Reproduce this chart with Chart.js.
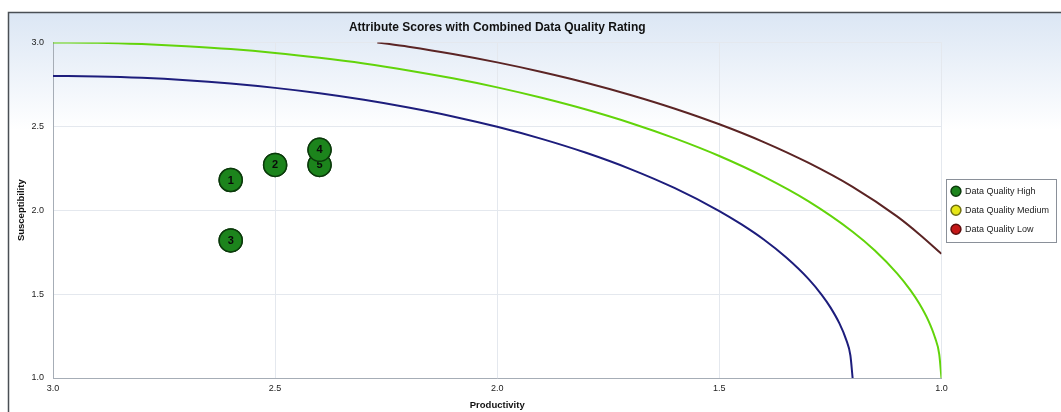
<!DOCTYPE html>
<html>
<head>
<meta charset="utf-8">
<script src="https://cdn.jsdelivr.net/npm/chart.js@4/dist/chart.umd.min.js"></script>
<style>
    html, body { margin: 0; padding: 0; background: #ffffff; }
    #wrap { width: 1061px; height: 412px; position: relative; }
</style>
</head>
<body>
<div id="wrap"><canvas id="scoreChart"></canvas></div>
<script>
// attribute points (productivity, susceptibility)
const pointLabels = ['1', '2', '3', '5', '4'];
const pointProductivity = [2.6, 2.5, 2.6, 2.4, 2.4];
const pointSusceptibility = [2.18, 2.27, 1.82, 2.27, 2.36];

// rating boundary curves
const blueX = [3.0, 2.9, 2.8, 2.7, 2.6, 2.5, 2.4, 2.3, 2.2, 2.1, 2.0, 1.9, 1.8, 1.7, 1.6, 1.5, 1.45, 1.4, 1.35, 1.3, 1.27, 1.25, 1.23, 1.215, 1.205, 1.2];
const blueY = [2.800, 2.797, 2.789, 2.775, 2.755, 2.729, 2.697, 2.658, 2.612, 2.559, 2.497, 2.425, 2.342, 2.245, 2.131, 1.995, 1.915, 1.825, 1.719, 1.592, 1.497, 1.421, 1.327, 1.232, 1.134, 1.0];

const greenX = [3.0, 2.9, 2.8, 2.7, 2.6, 2.5, 2.4, 2.3, 2.2, 2.1, 2.0, 1.9, 1.8, 1.7, 1.6, 1.5, 1.4, 1.3, 1.2, 1.15, 1.1, 1.07, 1.05, 1.03, 1.015, 1.005, 1.0];
const greenY = [3.000, 2.998, 2.990, 2.977, 2.960, 2.937, 2.908, 2.874, 2.833, 2.786, 2.732, 2.670, 2.600, 2.520, 2.428, 2.323, 2.200, 2.054, 1.872, 1.760, 1.624, 1.524, 1.444, 1.345, 1.244, 1.141, 1.0];

const brownX = [2.27, 2.2, 2.1, 2.0, 1.9, 1.8, 1.7, 1.6, 1.5, 1.4, 1.3, 1.2, 1.1, 1.05, 1.0];
const brownY = [3.000, 2.974, 2.931, 2.881, 2.824, 2.760, 2.687, 2.605, 2.512, 2.406, 2.283, 2.139, 1.963, 1.857, 1.740];

const legendNames = ['Data Quality High', 'Data Quality Medium', 'Data Quality Low'];

function toPoints(xs, ys) {
    return xs.map((x, i) => ({ x: x, y: ys[i] }));
}

function curve(xs, ys, color) {
    return {
        type: 'line',
        label: '',
        data: toPoints(xs, ys),
        borderColor: color,
        borderWidth: 2,
        pointRadius: 0,
        fill: false,
        cubicInterpolationMode: 'monotone',
        isCurve: true
    };
}

const framePlugin = {
    id: 'frame',
    beforeDraw(chart) {
        const ctx = chart.ctx;
        const grad = ctx.createLinearGradient(0, 12, 0, 130);
        grad.addColorStop(0, '#dbe6f4');
        grad.addColorStop(1, '#ffffff');
        ctx.save();
        ctx.fillStyle = grad;
        ctx.fillRect(8, 12, chart.width, chart.height);
        ctx.strokeStyle = '#4a4f55';
        ctx.lineWidth = 1.5;
        ctx.strokeRect(8.5, 12.5, chart.width + 10, chart.height + 10);
        ctx.restore();
    },
    afterDraw(chart) {
        // box round the legend
        const boxes = chart.legend.legendHitBoxes;
        if (!boxes || !boxes.length) return;
        const left = Math.min(...boxes.map(b => b.left)) - 5;
        const right = Math.max(...boxes.map(b => b.left + b.width)) + 7;
        const top = Math.min(...boxes.map(b => b.top)) - 8;
        const bottom = Math.max(...boxes.map(b => b.top + b.height)) + 8;
        const ctx = chart.ctx;
        ctx.save();
        ctx.strokeStyle = '#8a9099';
        ctx.lineWidth = 1;
        ctx.strokeRect(Math.round(left) + 0.5, Math.round(top) + 0.5, Math.round(right - left), Math.round(bottom - top));
        ctx.restore();
    }
};

const labelPlugin = {
    id: 'pointNumbers',
    afterDatasetsDraw(chart) {
        const meta = chart.getDatasetMeta(0);
        const ctx = chart.ctx;
        ctx.save();
        meta.data.forEach((el, i) => {
            el.draw(ctx, chart.chartArea);
            ctx.fillStyle = '#0a0a0a';
            ctx.font = 'bold 11px "Liberation Sans", Arial, sans-serif';
            ctx.textAlign = 'center';
            ctx.textBaseline = 'middle';
            ctx.fillText(pointLabels[i], el.x, el.y + 0.5);
        });
        ctx.restore();
    }
};

const ctx = document.getElementById('scoreChart').getContext('2d');
new Chart(ctx, {
    type: 'scatter',
    data: {
        datasets: [
            {
                label: legendNames[0],
                data: toPoints(pointProductivity, pointSusceptibility),
                backgroundColor: '#1c841c',
                borderColor: '#0b3a0b',
                borderWidth: 1.5,
                pointRadius: 11.5,
                pointHoverRadius: 11.5
            },
            { label: legendNames[1], data: [], backgroundColor: '#e6e617', borderColor: '#6f6f10', borderWidth: 1.5 },
            { label: legendNames[2], data: [], backgroundColor: '#c41717', borderColor: '#5e0d0d', borderWidth: 1.5 },
            curve(blueX, blueY, '#1d1d7c'),
            curve(greenX, greenY, '#62d40a'),
            curve(brownX, brownY, '#5b2424')
        ]
    },
    options: {
        responsive: true,
        maintainAspectRatio: false,
        animation: false,
        layout: { padding: { left: 14, top: 18, right: 2, bottom: 0 } },
        scales: {
            x: {
                type: 'linear',
                reverse: true,
                min: 1,
                max: 3,
                afterFit: (scale) => { scale.height = 34; },
                ticks: {
                    stepSize: 0.5,
                    padding: 5,
                    color: '#222',
                    font: { size: 9, family: 'Liberation Sans' },
                    callback: (v) => v.toFixed(1)
                },
                grid: { color: '#e4e8ee', drawTicks: false },
                border: { color: '#a6adb6' },
                title: {
                    display: true,
                    text: 'Productivity',
                    color: '#111',
                    padding: { top: 0, bottom: 1 },
                    font: { size: 9.5, weight: 'bold', family: 'Liberation Sans' }
                }
            },
            y: {
                min: 1,
                max: 3,
                afterFit: (scale) => { scale.width = 39; },
                ticks: {
                    stepSize: 0.5,
                    padding: 9,
                    color: '#222',
                    font: { size: 9, family: 'Liberation Sans' },
                    callback: (v) => v.toFixed(1)
                },
                grid: { color: '#e4e8ee', drawTicks: false },
                border: { color: '#a6adb6' },
                title: {
                    display: true,
                    text: 'Susceptibility',
                    color: '#111',
                    padding: { top: 2, bottom: 0 },
                    font: { size: 9.5, weight: 'bold', family: 'Liberation Sans' }
                }
            }
        },
        plugins: {
            title: {
                display: true,
                text: 'Attribute Scores with Combined Data Quality Rating',
                fullSize: false,
                color: '#111',
                padding: { top: 2, bottom: 8 },
                font: { size: 12, weight: 'bold', family: 'Liberation Sans' }
            },
            legend: {
                position: 'right',
                fullSize: false,
                labels: {
                    usePointStyle: true,
                    pointStyle: 'circle',
                    boxHeight: 7,
                    padding: 10,
                    color: '#222',
                    font: { size: 9, family: 'Liberation Sans' },
                    filter: (item, data) => !data.datasets[item.datasetIndex].isCurve
                }
            },
            tooltip: { enabled: false }
        }
    },
    plugins: [framePlugin, labelPlugin]
});
</script>
</body>
</html>
